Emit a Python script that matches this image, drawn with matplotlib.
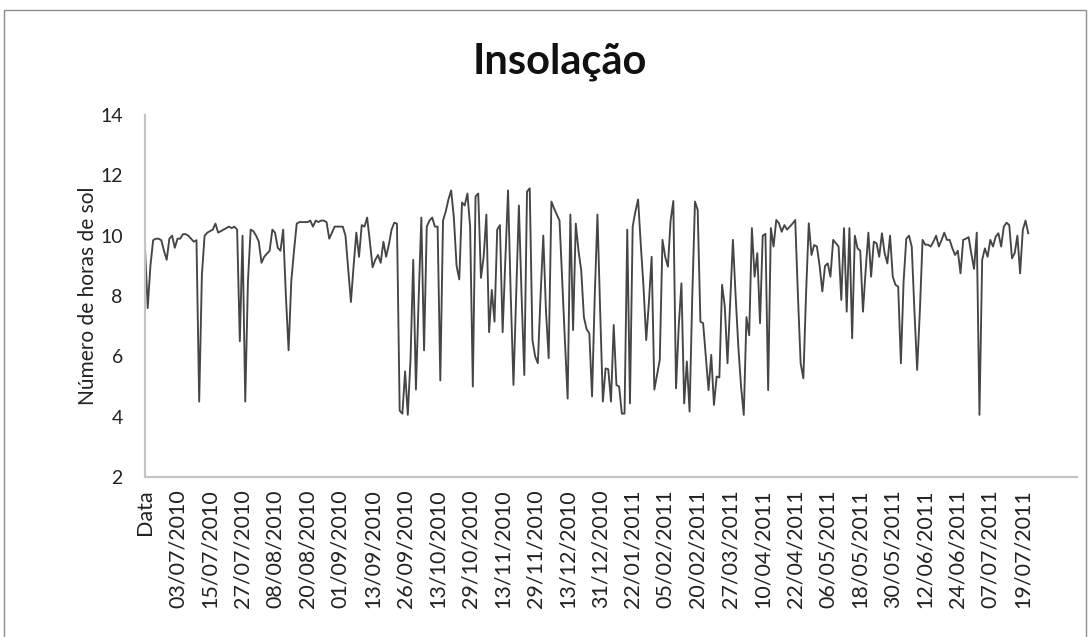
import matplotlib
matplotlib.use("Agg")
import matplotlib.pyplot as plt
import numpy as np
from matplotlib.patches import Rectangle

plt.rcParams["font.family"] = ["Lato", "DejaVu Sans"]

# horas de sol diárias (uma categoria por linha da folha)
horas_sol = [
    9.6, 7.6, 9.0, 9.85, 9.9, 9.9, 9.85, 9.5, 9.2, 9.9,
    10.0, 9.6, 9.9, 9.9, 10.05, 10.05, 10.0, 9.9, 9.8, 9.85,
    4.5, 8.7, 10.0, 10.1, 10.15, 10.2, 10.4, 10.1, 10.15, 10.2,
    10.25, 10.3, 10.25, 10.3, 10.2, 6.5, 10.0, 4.5, 8.5, 10.2,
    10.15, 10.0, 9.8, 9.1, 9.3, 9.4, 9.5, 10.2, 10.1, 9.6,
    9.5, 10.2, 8.0, 6.2, 8.5, 9.5, 10.4, 10.45, 10.45, 10.45,
    10.45, 10.5, 10.3, 10.5, 10.45,
    10.5, 10.5, 10.45, 9.9, 10.1, 10.3, 10.3, 10.3, 10.3, 10.0,
    8.9, 7.8, 9.0, 10.1, 9.3, 10.35, 10.3, 10.6, 9.8, 8.95,
    9.2, 9.36, 9.1, 9.8, 9.3, 9.7, 10.2, 10.43, 10.4, 4.2,
    4.1, 5.5, 4.06, 5.9, 9.2, 4.9, 7.9, 10.6, 6.2, 10.3,
    10.5, 10.6, 10.3, 10.3, 5.2, 10.5, 10.8, 11.2, 11.5, 10.6,
    9.0, 8.55, 11.1, 11.0, 11.4, 10.3, 5.0, 11.3, 11.4, 8.6,
    9.3, 10.7, 6.8, 8.2, 7.15, 10.2,
    10.35, 6.8, 9.2, 11.5, 8.0, 5.05, 8.0, 11.0, 8.0, 5.38,
    11.46, 11.57, 6.54, 6.0, 5.77, 8.0, 10.0, 7.5, 5.94, 11.13,
    10.9, 10.7, 10.5, 8.5, 6.5, 4.6, 10.7, 6.87, 10.4, 9.5,
    8.86, 7.3, 6.9, 6.76, 4.67, 8.0, 10.7, 7.5, 4.5, 5.6,
    5.57, 4.5, 7.04, 5.05, 5.0, 4.1, 4.1, 10.2, 4.44, 10.3,
    10.8, 11.2, 9.7, 8.3, 6.54, 7.8, 9.3, 4.9, 5.4, 5.88,
    9.86, 9.3, 8.97, 10.5, 11.15, 4.94,
    7.0, 8.42, 4.44, 5.83, 4.17, 8.0, 11.13, 10.85, 7.15, 7.1,
    6.0, 4.88, 6.05, 4.39, 5.33, 5.3, 8.37, 7.65, 5.77, 7.8,
    9.86, 8.0, 6.32, 5.0, 4.06, 7.3, 6.7, 10.25, 8.64, 9.42,
    7.1, 10.0, 10.06, 4.88, 10.25, 9.64, 10.52, 10.41, 10.13, 10.35,
    10.2, 10.3, 10.4, 10.52, 8.0, 5.77, 5.27, 8.09, 10.41, 9.36,
    9.69, 9.64, 9.0, 8.15, 9.0, 9.08, 8.64, 9.86, 9.75, 9.64,
    7.87, 10.25, 7.48, 10.25, 6.6, 10.0, 9.58, 9.5, 7.48, 8.86,
    10.1, 8.64, 9.8, 9.75, 9.3, 10.08, 9.42, 9.08, 10.0, 8.64,
    8.37, 8.31, 5.77, 8.5, 9.9, 10.0, 9.64, 7.5, 5.55, 7.5,
    9.86, 9.7, 9.7, 9.64, 9.8, 10.0, 9.64, 9.85, 10.1, 9.86,
    9.86, 9.58, 9.36, 9.5, 8.75, 9.86, 9.9, 9.95, 9.4, 8.9,
    10.1, 4.06, 9.2, 9.58, 9.3, 9.86, 9.64, 9.97, 10.08, 9.64,
    10.3, 10.43, 10.35, 9.25, 9.42, 10.0, 8.75, 10.19, 10.5, 10.08,
]

# rótulos do eixo das categorias (um a cada 12 linhas)
rotulos = [
    "Data", "03/07/2010", "15/07/2010", "27/07/2010", "08/08/2010",
    "20/08/2010", "01/09/2010", "13/09/2010", "26/09/2010", "13/10/2010",
    "29/10/2010", "13/11/2010", "29/11/2010", "13/12/2010", "31/12/2010",
    "22/01/2011", "05/02/2011", "20/02/2011", "27/03/2011", "10/04/2011",
    "22/04/2011", "06/05/2011", "18/05/2011", "30/05/2011", "12/06/2011",
    "24/06/2011", "07/07/2011", "19/07/2011",
]
passo_rotulos = 12
n_categorias = 345

fig = plt.figure(figsize=(10.91, 6.37), dpi=100)
W, H = 1091, 637

# moldura do gráfico
fig.patches.append(Rectangle((4 / W, -0.05), 1082 / W, 1.05 - 10 / H,
                             transform=fig.transFigure, fill=False,
                             edgecolor="#8c8c8c", linewidth=1.0))

ax = fig.add_axes([145 / W, 1 - 477 / H, 932 / W, 362 / H])
x = np.arange(len(horas_sol))
ax.plot(x, horas_sol, color="#454545", linewidth=1.35)

ax.set_xlim(0, n_categorias - 1)
ax.set_ylim(2, 14)
ax.set_yticks(np.arange(2, 15, 2))
ax.set_xticks(np.arange(len(rotulos)) * passo_rotulos)
ax.set_xticklabels(rotulos, rotation=90, fontsize=15.5, color="#222222")
ax.tick_params(axis="y", length=0, pad=16, labelsize=14, labelcolor="#222222")
ax.tick_params(axis="x", length=0, pad=9)

for lado in ["top", "right"]:
    ax.spines[lado].set_visible(False)
for lado in ["left", "bottom"]:
    ax.spines[lado].set_color("#c4c4c4")
    ax.spines[lado].set_linewidth(1.6)

fig.text(560 / W, 1 - 62 / H, "Insolação", ha="center", va="center",
         fontsize=30, fontweight="bold", color="#111111")
fig.text(88 / W, 1 - 296 / H, "Número de horas de sol", ha="center",
         va="center", rotation=90, fontsize=15, color="#222222")

fig.savefig("out.png", dpi=100)
